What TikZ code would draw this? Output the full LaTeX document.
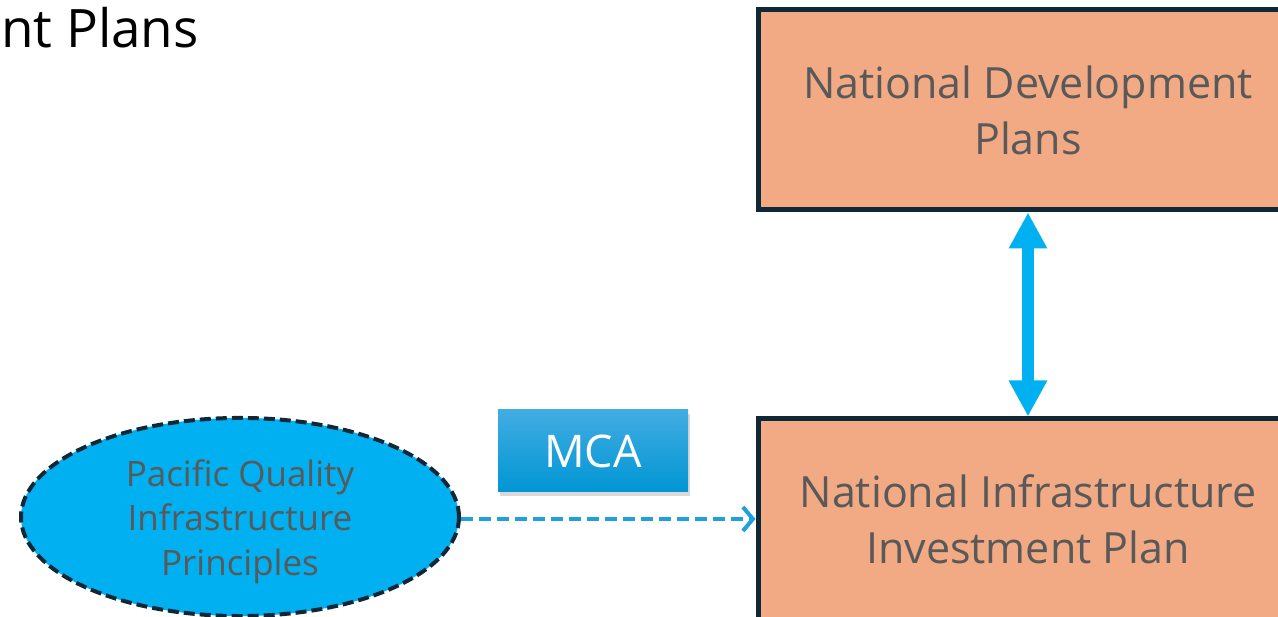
\documentclass[tikz,border=0pt]{standalone}
\usepackage{fontspec}
\setmainfont{Open Sans}
\usetikzlibrary{shapes.geometric, arrows.meta, shadows, positioning}
\definecolor{planfill}{HTML}{F2AA84}
\definecolor{navyline}{HTML}{0E2838}
\definecolor{skyblue}{HTML}{00B0F0}
\definecolor{dashblue}{HTML}{1FA0DC}
\definecolor{greytext}{HTML}{595959}
\definecolor{mcatop}{HTML}{42ACE2}
\definecolor{mcabottom}{HTML}{0096D4}
\begin{document}
\begin{tikzpicture}[x=1pt, y=-1pt,
	planbox/.style={rectangle, draw=navyline, line width=5pt, fill=planfill,
		minimum width=540pt, minimum height=200pt, align=center, text=greytext,
		font=\fontsize{43}{56}\selectfont},
	principle/.style={ellipse, draw=navyline, line width=4pt,
		dash pattern=on 11pt off 5pt, fill=skyblue, minimum width=438pt,
		minimum height=198pt, align=center, text=greytext,
		font=\fontsize{35}{44.5}\selectfont},
	toolbox/.style={rectangle, top color=mcatop, bottom color=mcabottom,
		minimum width=190pt, minimum height=82pt, text=white,
		drop shadow={shadow xshift=2pt, shadow yshift=-4pt, opacity=0.3},
		font=\fontsize{45}{50}\selectfont}]
	\useasboundingbox (0,0) rectangle (1278,617);
	\clip (0,0) rectangle (1278,617);

	\node (title) [anchor=base west, inner sep=0pt, font=\fontsize{53}{60}\selectfont] at (1,48) {nt Plans};

	\node (ndp) [planbox] at (1028,110) {National Development\\Plans};
	\node (nip) [planbox] at (1028,519) {National Infrastructure\\Investment Plan};
	\node (pqi) [principle] at (240,517) {\rule{0pt}{36pt}Pacific Quality\\Infrastructure\\Principles};
	\node (mca) [toolbox] at (593,451) {MCA};

	\draw [skyblue, line width=12pt, {Triangle[width=36pt,length=36pt]}-{Triangle[width=36pt,length=36pt]}]
		(ndp.south) -- (nip.north);
	\draw [dashblue, line width=4pt, dash pattern=on 12pt off 6pt, -{Straight Barb[length=10pt,width=24pt]}]
		(pqi.east |- nip.west) -- (nip.west);
\end{tikzpicture}
\end{document}
